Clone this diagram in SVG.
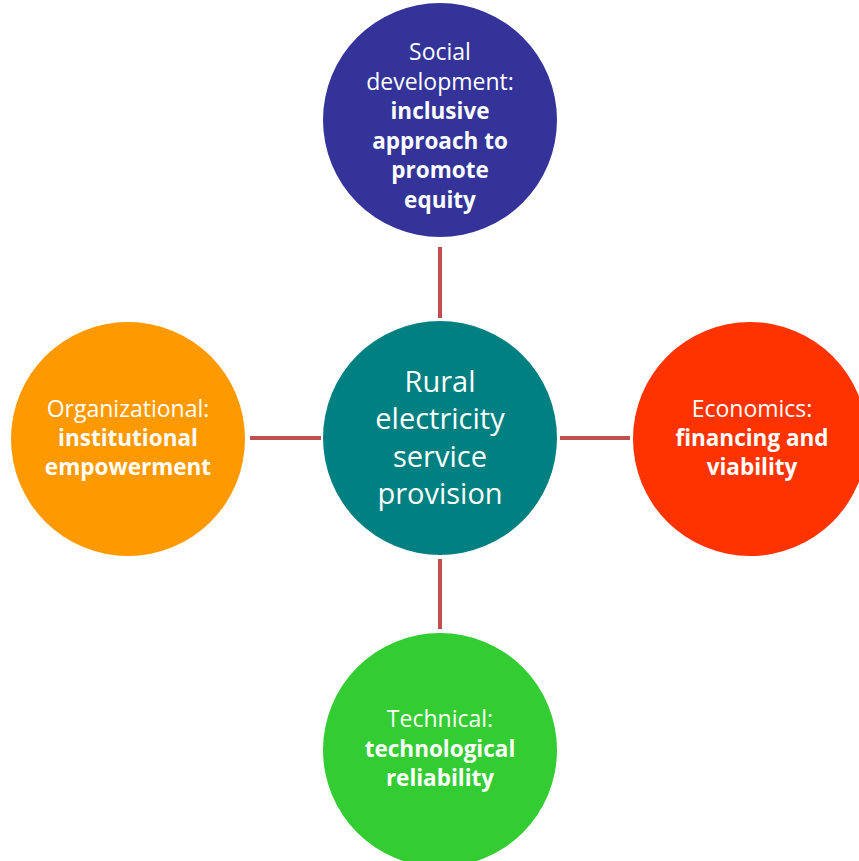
<svg xmlns="http://www.w3.org/2000/svg" width="859" height="861" viewBox="0 0 859 861">
  <style>
    .link { stroke: #C0504D; stroke-width: 4; fill: none; }
    .lbl { font-family: "Open Sans", "Liberation Sans", sans-serif; font-size: 23px; fill: #FFFFFF; text-anchor: middle; }
    .b { font-weight: bold; font-size: 22.5px; }
    .hub { font-family: "Open Sans", "Liberation Sans", sans-serif; font-size: 29px; fill: #FFFFFF; text-anchor: middle; }
  </style>
  <rect width="859" height="861" fill="#FFFFFF"/>

  <!-- spokes from the hub to each pillar -->
  <g id="connectors">
    <line class="link" x1="440" y1="247" x2="440" y2="318"/>
    <line class="link" x1="440" y1="559" x2="440" y2="629"/>
    <line class="link" x1="250" y1="438" x2="321" y2="438"/>
    <line class="link" x1="560" y1="438" x2="630" y2="438"/>
  </g>

  <g id="social">
    <circle cx="440" cy="120" r="117" fill="#333399"/>
    <text class="lbl" x="440" y="60">Social</text>
    <text class="lbl" x="440" y="89.5">development:</text>
    <text class="lbl b" x="440" y="119">inclusive</text>
    <text class="lbl b" x="440" y="148.5">approach to</text>
    <text class="lbl b" x="440" y="178">promote</text>
    <text class="lbl b" x="440" y="207.5">equity</text>
  </g>

  <g id="hub">
    <circle cx="440" cy="438" r="117" fill="#008080"/>
    <text class="hub" x="440" y="392">Rural</text>
    <text class="hub" x="440" y="429">electricity</text>
    <text class="hub" x="440" y="467">service</text>
    <text class="hub" x="440" y="504">provision</text>
  </g>

  <g id="organizational">
    <circle cx="128" cy="439" r="117" fill="#FF9900"/>
    <text class="lbl" x="128" y="417">Organizational:</text>
    <text class="lbl b" x="128" y="446">institutional</text>
    <text class="lbl b" x="128" y="475">empowerment</text>
  </g>

  <g id="economics">
    <circle cx="750" cy="439" r="117" fill="#FF3300"/>
    <text class="lbl" x="752" y="417">Economics:</text>
    <text class="lbl b" x="752" y="446">financing and</text>
    <text class="lbl b" x="752" y="475">viability</text>
  </g>

  <g id="technical">
    <circle cx="440" cy="750" r="117" fill="#33CC33"/>
    <text class="lbl" x="440" y="727">Technical:</text>
    <text class="lbl b" x="440" y="757">technological</text>
    <text class="lbl b" x="440" y="786">reliability</text>
  </g>
</svg>
